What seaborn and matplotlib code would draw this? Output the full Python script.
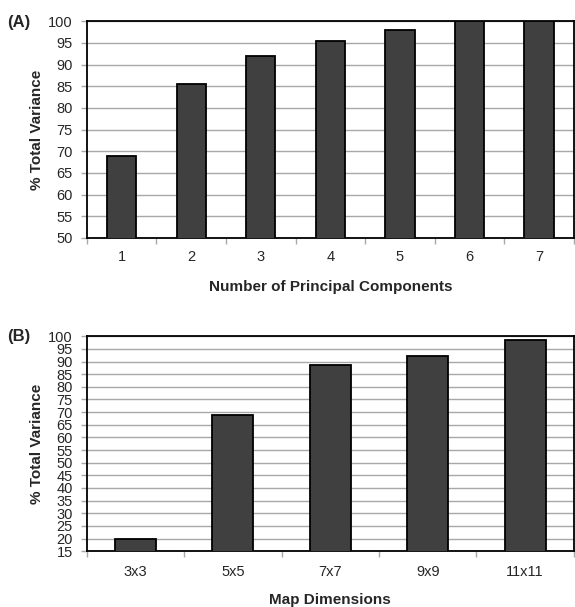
import matplotlib
matplotlib.use("Agg")
import matplotlib.pyplot as plt
import seaborn as sns
import numpy as np
import pandas as pd

# Data
pc_labels = ["1", "2", "3", "4", "5", "6", "7"]
pc_values = [68.9, 85.6, 91.9, 95.5, 97.9, 100.0, 100.0]
map_labels = ["3x3", "5x5", "7x7", "9x9", "11x11"]
map_values = [20.0, 68.7, 88.8, 92.3, 98.6]
yticks_a = list(range(50, 101, 5))
yticks_b = list(range(15, 101, 5))

sns.set_style("white")
plt.rcParams['font.family'] = ['Liberation Sans', 'DejaVu Sans']

fig = plt.figure(figsize=(5.75, 6.07), dpi=100)
axA = fig.add_axes([0.151, 0.608, 0.847, 0.357])
axB = fig.add_axes([0.151, 0.092, 0.847, 0.354])

BAR = "#404040"
GRID = "#a8a8a8"


def draw(ax, labels, values, yticks, xlabel, xpad, xlpad):
    df = pd.DataFrame({"cat": labels, "val": values})
    sns.barplot(data=df, x="cat", y="val", ax=ax, color=BAR, saturation=1,
                width=0.42, edgecolor="black", linewidth=1.3, zorder=3)
    ax.set_ylim(yticks[0], yticks[-1])
    ax.set_xlim(-0.5, len(labels) - 0.5)
    ax.set_yticks(yticks)
    ax.set_yticklabels([str(v) for v in yticks], fontsize=10.5)
    ax.yaxis.grid(True, color=GRID, linewidth=1.0, zorder=0)
    ax.set_axisbelow(True)
    ax.set_xticks(range(len(labels)))
    ax.set_xticklabels(labels, fontsize=10.5)
    ax.set_xticks(np.arange(-0.5, len(labels), 1.0), minor=True)
    ax.tick_params(axis="x", which="major", length=0, pad=xpad)
    ax.tick_params(axis="x", which="minor", length=4, color=GRID, width=1, direction="out", bottom=True)
    ax.tick_params(axis="y", length=4, color=GRID, width=1, direction="out", left=True, pad=6)
    for s in ax.spines.values():
        s.set_visible(True)
        s.set_color("black")
        s.set_linewidth(1.3)
    ax.set_xlabel(xlabel, fontsize=11, fontweight="bold", labelpad=xlpad)
    ax.set_ylabel("% Total Variance", fontsize=11, fontweight="bold", labelpad=3)


draw(axA, pc_labels, pc_values, yticks_a, "Number of Principal Components", 9, 11)
draw(axB, map_labels, map_values, yticks_b, "Map Dimensions", 10, 10)

fig.text(0.012, 1 - 22 / 607, "(A)", fontsize=12, fontweight="bold", va="center", ha="left")
fig.text(0.012, 1 - 336 / 607, "(B)", fontsize=12, fontweight="bold", va="center", ha="left")

fig.savefig("out.png", dpi=100)
